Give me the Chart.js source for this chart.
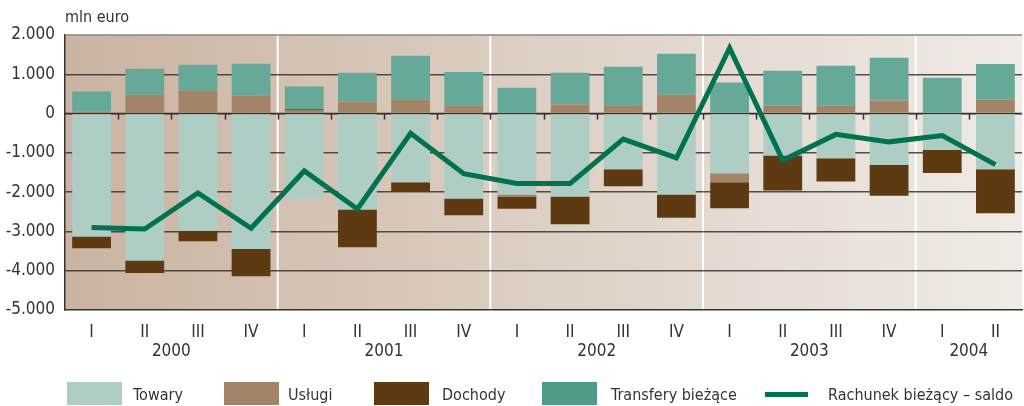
<!DOCTYPE html>
<html>
<head>
<meta charset="utf-8">
<script src="https://cdn.jsdelivr.net/npm/chart.js@4/dist/chart.umd.min.js"></script>
<style>
  html, body { margin: 0; padding: 0; background: #fff; }
  #wrap { position: relative; width: 1024px; height: 406px; }
  #legend { position: absolute; left: 0; top: 382px; width: 1024px; height: 24px;
    font-family: "Liberation Sans Narrow", "DejaVu Sans Condensed", sans-serif; font-size: 16px; color: #333; }
  .sw { position: absolute; top: 0; height: 23px; }
  .lb { position: absolute; top: 3px; }
</style>
</head>
<body>
<div id="wrap">
  <canvas id="c" width="1024" height="406"></canvas>
  <div id="legend"></div>
</div>
<script>
const quarters = ['I','II','III','IV','I','II','III','IV','I','II','III','IV','I','II','III','IV','I','II'];
const years = ['2000','2001','2002','2003','2004'];
const towary = [-3130,-3740,-2980,-3450,-2160,-2440,-1750,-2160,-2060,-2110,-1420,-2060,-1520,-1070,-1140,-1300,-920,-1420];
const uslugi = [50,480,580,460,90,310,360,200,-50,230,200,480,-230,200,200,330,20,350];
const dochody = [-300,-320,-270,-690,20,-960,-240,-430,-310,-710,-430,-590,-660,-890,-590,-790,-590,-1120];
const transfery = [510,660,660,810,580,730,1110,860,660,810,990,1040,790,890,1020,1090,890,910];
const saldo = [-2900,-2940,-2020,-2920,-1460,-2430,-500,-1530,-1780,-1780,-650,-1130,1670,-1190,-530,-720,-560,-1300];
const yearSizes = [4,4,4,4,2];

const FONT = '"Liberation Sans Narrow", "DejaVu Sans Condensed", sans-serif';
const colors = { towary: '#aecdc4', uslugi: '#a38468', dochody: '#5e3a12', transfery: '#67a999', saldo: '#00724f' };

const decor = {
    id: 'decor',
    beforeDraw(chart) {
        const { ctx, chartArea: a } = chart;
        const g = ctx.createLinearGradient(a.left, 0, a.right, 0);
        g.addColorStop(0, '#cab3a1');
        g.addColorStop(0.5, '#ddd0c4');
        g.addColorStop(1, '#f0ebe6');
        ctx.save();
        ctx.fillStyle = g;
        ctx.fillRect(a.left, a.top, a.right - a.left, a.bottom - a.top);
        // year separators
        const x = chart.scales.x;
        ctx.strokeStyle = '#ffffff';
        ctx.lineWidth = 2;
        let idx = 0;
        yearSizes.slice(0, -1).forEach(n => {
            idx += n;
            const px = (x.getPixelForValue(idx - 1) + x.getPixelForValue(idx)) / 2;
            ctx.beginPath(); ctx.moveTo(px, a.top); ctx.lineTo(px, a.bottom); ctx.stroke();
        });
        ctx.restore();
    },
    beforeDatasetsDraw(chart) {
        const { ctx, chartArea: a } = chart;
        const x = chart.scales.x, y = chart.scales.y;
        const y0 = y.getPixelForValue(0);
        ctx.save();
        ctx.strokeStyle = '#333';
        ctx.lineWidth = 1.5;
        ctx.beginPath(); ctx.moveTo(a.left, y0); ctx.lineTo(a.right, y0); ctx.stroke();
        for (let i = 0; i < quarters.length - 1; i++) {
            const px = Math.round((x.getPixelForValue(i) + x.getPixelForValue(i + 1)) / 2) + 0.5;
            ctx.beginPath(); ctx.moveTo(px, y0); ctx.lineTo(px, y0 + 6); ctx.stroke();
        }
        // top border
        ctx.strokeStyle = '#888';
        ctx.lineWidth = 1.5;
        ctx.beginPath(); ctx.moveTo(a.left, a.top); ctx.lineTo(a.right, a.top); ctx.stroke();
        ctx.restore();
    },
    afterDraw(chart) {
        const { ctx, chartArea: a } = chart;
        const x = chart.scales.x;
        ctx.save();
        ctx.fillStyle = '#333';
        ctx.font = '16px ' + FONT;
        ctx.textBaseline = 'middle';
        ctx.textAlign = 'left';
        ctx.fillText('mln euro', a.left, 18);
        ctx.font = '17px ' + FONT;
        ctx.textAlign = 'center';
        let idx = 0;
        years.forEach((yr, k) => {
            const n = yearSizes[k];
            const px = (x.getPixelForValue(idx) + x.getPixelForValue(idx + n - 1)) / 2;
            ctx.fillText(yr, px, 352);
            idx += n;
        });
        ctx.restore();
    }
};

new Chart(document.getElementById('c'), {
    data: {
        labels: quarters,
        datasets: [
            { type: 'bar', label: 'Towary', data: towary, backgroundColor: colors.towary, stack: 'b' },
            { type: 'bar', label: 'Usługi', data: uslugi, backgroundColor: colors.uslugi, stack: 'b' },
            { type: 'bar', label: 'Dochody', data: dochody, backgroundColor: colors.dochody, stack: 'b' },
            { type: 'bar', label: 'Transfery bieżące', data: transfery, backgroundColor: colors.transfery, stack: 'b' },
            { type: 'line', label: 'Rachunek bieżący – saldo', data: saldo, borderColor: colors.saldo, borderWidth: 5,
              pointRadius: 0, tension: 0, stack: 'l', order: -1, borderJoinStyle: 'miter' }
        ]
    },
    options: {
        responsive: false,
        animation: false,
        layout: { padding: { top: 35, right: 2, left: 0, bottom: 0 } },
        datasets: { bar: { barPercentage: 0.73, categoryPercentage: 1 } },
        plugins: { legend: { display: false }, tooltip: { enabled: false } },
        scales: {
            x: {
                stacked: true,
                grid: { display: false },
                border: { color: '#333', width: 1.5 },
                ticks: { color: '#333', font: { family: FONT, size: 17 }, padding: 4, maxRotation: 0, autoSkip: false },
                afterFit(s) { s.height = 96; }
            },
            y: {
                stacked: true,
                min: -5000, max: 2000,
                afterFit(s) { s.width = 65; },
                grid: { color: c => c.tick.value === 2000 || c.tick.value === -5000 ? 'rgba(0,0,0,0)' : 'rgba(45,40,38,0.8)', lineWidth: 1.5, drawTicks: false },
                border: { color: '#333', width: 1.5 },
                ticks: {
                    stepSize: 1000, color: '#333', padding: 10,
                    font: { family: FONT, size: 17 },
                    callback: v => v === 0 ? '0' : (v < 0 ? '-' : '') + Math.abs(v / 1000) + '.000'
                }
            }
        }
    },
    plugins: [decor]
});

// legend
const legendItems = [
    { label: 'Towary', color: colors.towary, sx: 67, lx: 133 },
    { label: 'Usługi', color: colors.uslugi, sx: 224, lx: 288 },
    { label: 'Dochody', color: colors.dochody, sx: 374, lx: 442 },
    { label: 'Transfery bieżące', color: '#4e9c88', sx: 542, lx: 611 },
    { label: 'Rachunek bieżący – saldo', color: colors.saldo, sx: 765, lx: 828, line: true }
];
const lg = document.getElementById('legend');
legendItems.forEach(it => {
    const sw = document.createElement('div');
    sw.className = 'sw';
    sw.style.left = it.sx + 'px';
    sw.style.width = (it.line ? 43 : 55) + 'px';
    sw.style.background = it.color;
    if (it.line) { sw.style.top = '10px'; sw.style.height = '5px'; }
    lg.appendChild(sw);
    const lb = document.createElement('div');
    lb.className = 'lb';
    lb.style.left = it.lx + 'px';
    lb.textContent = it.label;
    lg.appendChild(lb);
});
</script>
</body>
</html>
